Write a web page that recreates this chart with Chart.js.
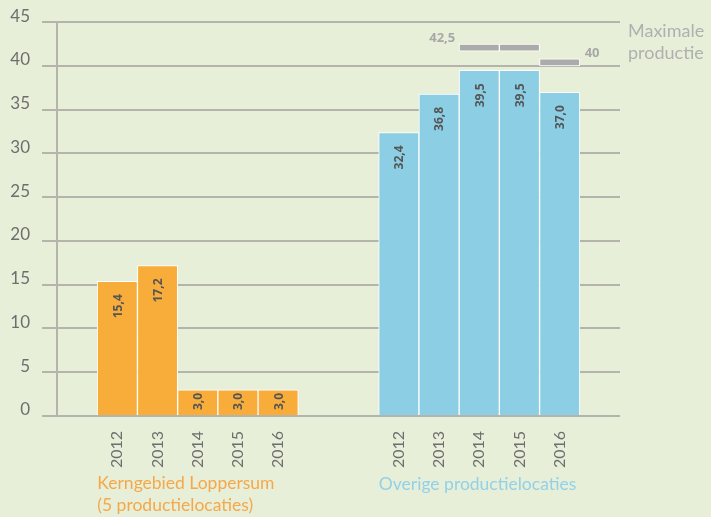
<!DOCTYPE html>
<html>
<head>
<meta charset="utf-8">
<script src="https://cdn.jsdelivr.net/npm/chart.js@4"></script>
<style>
  html, body { margin: 0; padding: 0; background: #e8efd9; }
  canvas { display: block; }
</style>
</head>
<body>
<canvas id="chart" width="711" height="517"></canvas>
<script>
// categories: empty slots separate the two groups
const labels = ['', '2012', '2013', '2014', '2015', '2016', '', '', '2012', '2013', '2014', '2015', '2016', ''];
const kerngebied = [null, 15.4, 17.2, 3.0, 3.0, 3.0, null, null, null, null, null, null, null, null];
const overige = [null, null, null, null, null, null, null, null, 32.4, 36.8, 39.5, 39.5, 37.0, null];
// maximale productie markers (floating bars)
const maxProductie = [null, null, null, null, null, null, null, null, null, null, [41.7, 42.5], [41.7, 42.5], [40.0, 40.8], null];
const maxLabels = ['42,5', '40'];
const yTicks = [0, 5, 10, 15, 20, 25, 30, 35, 40, 45];

const FONT = 'Lato, "Open Sans", sans-serif';
const BOLD = '"Open Sans", sans-serif';

// draws value labels inside bars and the extra texts
const annotations = {
    id: 'annotations',
    afterDatasetsDraw(chart) {
        const ctx = chart.ctx;
        const x = chart.scales.x;
        const y = chart.scales.y;

        // values inside bars, rotated
        [0, 1].forEach(di => {
            const meta = chart.getDatasetMeta(di);
            const data = chart.data.datasets[di].data;
            meta.data.forEach((bar, i) => {
                if (data[i] == null) return;
                const txt = data[i].toFixed(1).replace('.', ',');
                ctx.save();
                ctx.font = 'bold 12px ' + BOLD;
                const w = ctx.measureText(txt).width;
                let top = bar.y + 13;
                if (top + w > bar.base - 5) top = bar.base - 5 - w;
                ctx.translate(bar.x + 1, top);
                ctx.rotate(-Math.PI / 2);
                ctx.fillStyle = '#555555';
                ctx.textAlign = 'right';
                ctx.textBaseline = 'middle';
                ctx.fillText(txt, 0, 0);
                ctx.restore();
            });
        });

        // labels next to the max markers
        ctx.save();
        ctx.font = 'bold 13px ' + BOLD;
        ctx.fillStyle = '#a8a8a8';
        ctx.textBaseline = 'middle';
        ctx.textAlign = 'right';
        ctx.fillText(maxLabels[0], x.getPixelForValue(10) - 24, y.getPixelForValue(43.2));
        ctx.textAlign = 'left';
        ctx.fillText(maxLabels[1], x.getPixelForValue(12) + 25, y.getPixelForValue(41.5));

        // Maximale productie
        ctx.font = '18px ' + FONT;
        ctx.fillStyle = '#b0b0b0';
        ctx.fillText('Maximale', 628, 31);
        ctx.fillText('productie', 628, 53);

        // group titles
        ctx.font = '17.5px ' + FONT;
        ctx.fillStyle = '#f5a84a';
        ctx.fillText('Kerngebied Loppersum', x.getPixelForValue(1) - 20, 483);
        ctx.fillText('(5 productielocaties)', x.getPixelForValue(1) - 20, 505);
        ctx.fillStyle = '#92d1e8';
        ctx.fillText('Overige productielocaties', x.getPixelForValue(8) - 20, 484);
        ctx.restore();
    }
};

new Chart(document.getElementById('chart'), {
    type: 'bar',
    data: {
        labels: labels,
        datasets: [
            {
                label: 'Kerngebied Loppersum',
                data: kerngebied,
                backgroundColor: '#f8ad3a',
                borderColor: '#ffffff',
                borderWidth: 1,
                borderSkipped: 'bottom'
            },
            {
                label: 'Overige productielocaties',
                data: overige,
                backgroundColor: '#8ccfe5',
                borderColor: '#ffffff',
                borderWidth: 1,
                borderSkipped: 'bottom'
            },
            {
                label: 'Maximale productie',
                data: maxProductie,
                backgroundColor: '#ababab',
                borderColor: '#ffffff',
                borderWidth: 1,
                borderSkipped: false
            }
        ]
    },
    options: {
        responsive: false,
        animation: false,
        barPercentage: 1,
        categoryPercentage: 1,
        layout: { padding: { top: 19, right: 91, left: 0, bottom: 0 } },
        plugins: {
            legend: { display: false },
            tooltip: { enabled: false }
        },
        scales: {
            x: {
                stacked: true,
                grid: { display: false },
                border: { display: false },
                ticks: {
                    minRotation: 90,
                    maxRotation: 90,
                    autoSkip: false,
                    padding: 7,
                    color: '#6e6e6e',
                    font: { family: FONT, size: 16 }
                },
                afterFit(scale) { scale.height = 101; }
            },
            y: {
                stacked: false,
                min: 0,
                max: 45,
                afterBuildTicks(scale) { scale.ticks = yTicks.map(v => ({ value: v })); },
                grid: {
                    color: '#b4b4ad',
                    lineWidth: 2,
                    tickLength: 15
                },
                border: { display: true, color: '#b4b4ad', width: 2 },
                ticks: {
                    padding: 12,
                    labelOffset: -6,
                    color: '#6e6e6e',
                    font: { family: FONT, size: 17 }
                },
                afterFit(scale) { scale.width = 57; }
            }
        }
    },
    plugins: [annotations]
});
</script>
</body>
</html>
